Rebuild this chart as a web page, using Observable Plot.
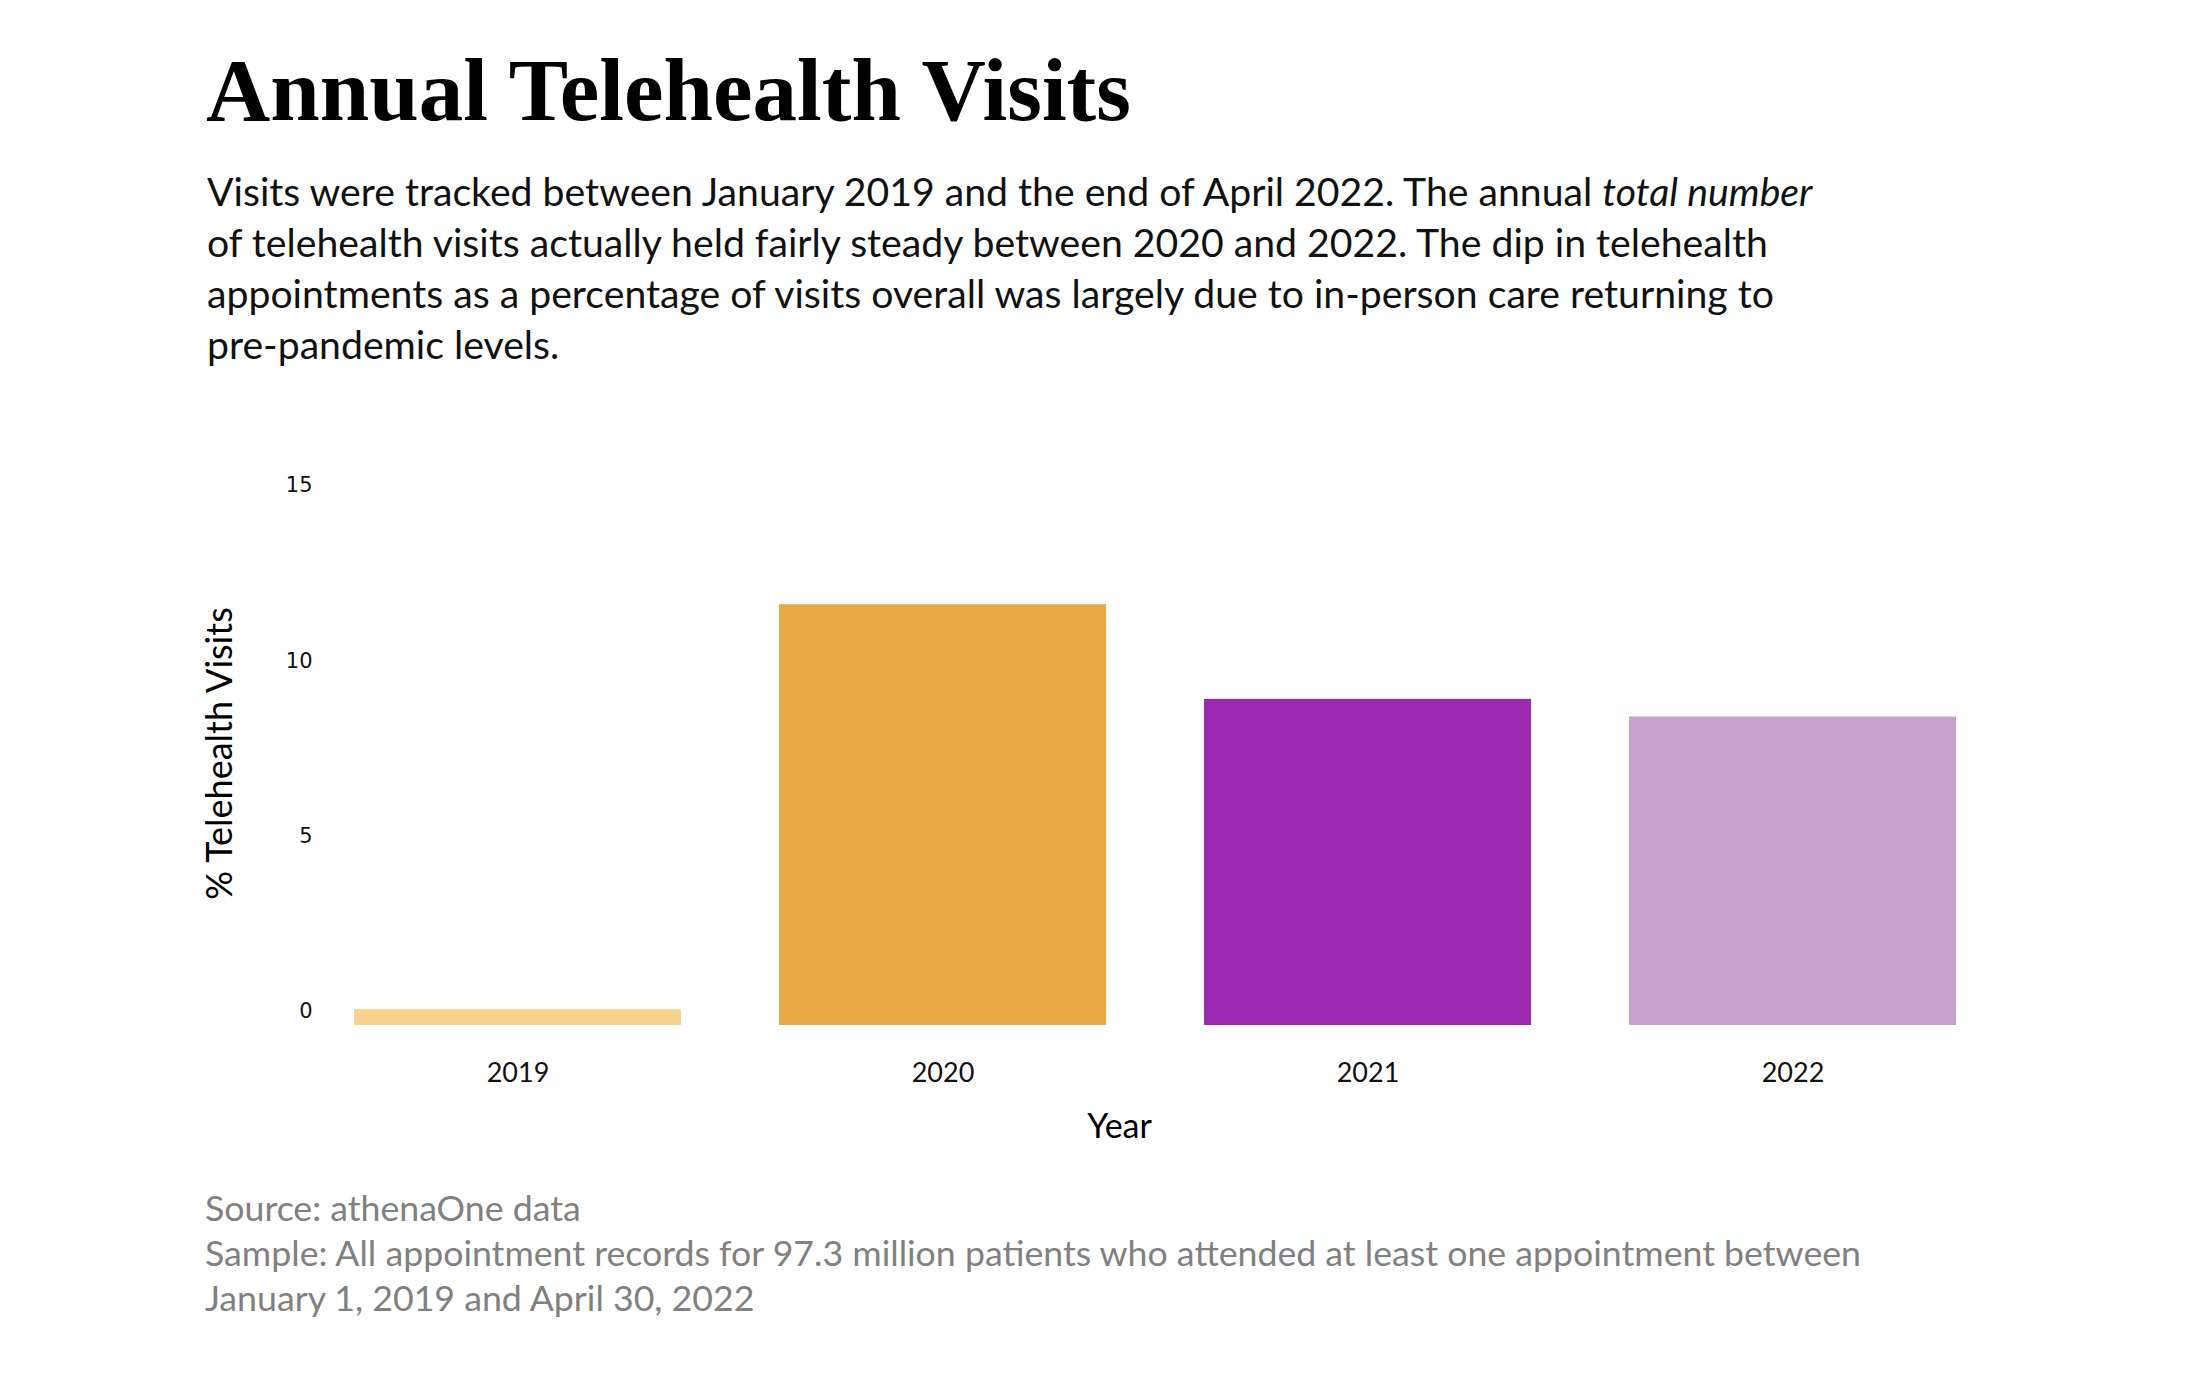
<!DOCTYPE html>
<html>
<head>
<meta charset="utf-8">
<script src="https://cdn.jsdelivr.net/npm/d3@7"></script>
<script src="https://cdn.jsdelivr.net/npm/@observablehq/plot@0.6"></script>
<style>
  html, body { margin: 0; padding: 0; background: #fff; }
  #wrap { position: relative; width: 2200px; height: 1394px; overflow: hidden; }
  #title { position: absolute; left: 206px; top: 46px; margin: 0; font-family: "Liberation Serif", serif; font-weight: bold; font-size: 89px; line-height: 88px; color: #000; white-space: nowrap; }
  #subtitle { position: absolute; left: 207px; top: 165px; margin: 0; font-family: Lato, sans-serif; font-size: 39.2px; line-height: 51px; color: #111; white-space: nowrap; }
  #chart { position: absolute; left: 0; top: 420px; }
  #caption { position: absolute; left: 205px; top: 1185px; margin: 0; font-family: Lato, sans-serif; font-size: 35.7px; line-height: 45px; color: #808080; white-space: nowrap; }
</style>
</head>
<body>
<div id="wrap">
  <h1 id="title">Annual Telehealth Visits</h1>
  <div id="subtitle">Visits were tracked between January 2019 and the end of April 2022. The annual <i>total number</i><br>of telehealth visits actually held fairly steady between 2020 and 2022. The dip in telehealth<br>appointments as a percentage of visits overall was largely due to in-person care returning to<br>pre-pandemic levels.</div>
  <div id="chart"></div>
  <div id="caption">Source: athenaOne data<br>Sample: All appointment records for 97.3 million patients who attended at least one appointment between<br>January 1, 2019 and April 30, 2022</div>
</div>
<script>
const years = ["2019", "2020", "2021", "2022"];
const pctTelehealth = [0.45, 12.0, 9.3, 8.8];
const barColors = ["#F9D28E", "#E8A842", "#9C27B0", "#C8A1CC"];
const yTicks = [0, 5, 10, 15];
const xTitle = "Year";
const yTitle = "% Telehealth Visits";

const data = years.map((year, i) => ({year, value: pctTelehealth[i]}));

const chart = Plot.plot({
  width: 2200,
  height: 760,
  marginTop: 79,
  marginBottom: 155,
  marginLeft: 316,
  marginRight: 206,
  style: {background: "#fff", color: "#111"},
  x: {domain: years, paddingInner: 0.23, paddingOuter: 0.087, label: null},
  y: {domain: [0, 15], label: null},
  color: {domain: years, range: barColors},
  marks: [
    Plot.barY(data, {x: "year", y: "value", fill: "year"}),
    Plot.axisY({ticks: yTicks, tickSize: 0, tickPadding: 4, dy: -14, fontSize: 21, fontFamily: "DejaVu Sans", label: null, tickFormat: d3.format("d")}),
    Plot.axisX({tickSize: 0, tickPadding: 37, fontSize: 27, fontFamily: "Lato", label: null}),
    Plot.text([xTitle], {frameAnchor: "bottom", dx: -36, dy: 112, fontSize: 34, fontFamily: "Lato", fill: "#000"}),
    Plot.text([yTitle], {frameAnchor: "left", textAnchor: "middle", dx: -96, dy: -9, rotate: -90, fontSize: 36, fontFamily: "Lato", fill: "#000"})
  ]
});
document.getElementById("chart").appendChild(chart);
</script>
</body>
</html>
